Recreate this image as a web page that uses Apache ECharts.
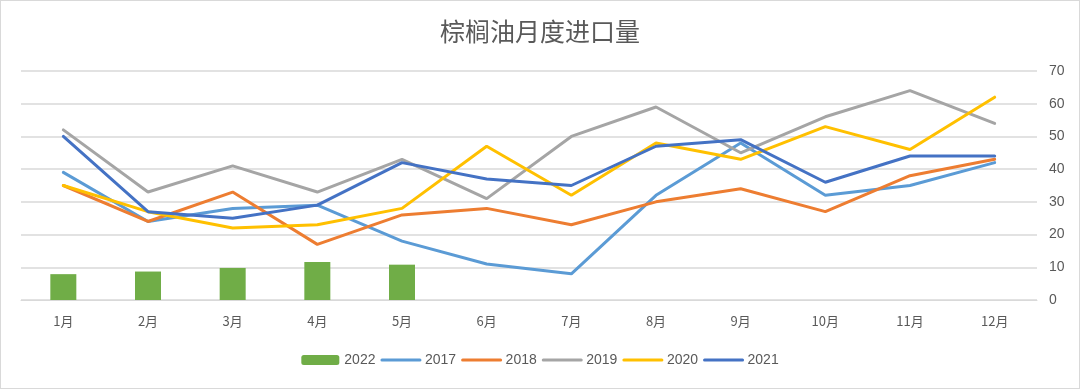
<!DOCTYPE html>
<html><head><meta charset="utf-8">
<script src="https://cdn.jsdelivr.net/npm/echarts@6/dist/echarts.min.js"></script>
<style>html,body{margin:0;padding:0;background:#fff}#c{width:1078px;height:387px;border:1px solid #d9d9d9;}</style>
</head><body><div id="c"></div>
<script>
const categories = ['1月','2月','3月','4月','5月','6月','7月','8月','9月','10月','11月','12月'];
const legendNames = ['2022','2017','2018','2019','2020','2021'];
const s2022 = [7.9, 8.7, 9.8, 11.6, 10.8];
const s2017 = [39, 24, 28, 29, 18, 11, 8, 32, 48, 32, 35, 42];
const s2018 = [35, 24, 33, 17, 26, 28, 23, 30, 34, 27, 38, 43];
const s2019 = [52, 33, 41, 33, 43, 31, 50, 59, 45, 56, 64, 54];
const s2020 = [35, 27, 22, 23, 28, 47, 32, 48, 43, 53, 46, 62];
const s2021 = [50, 27, 25, 29, 42, 37, 35, 47, 49, 36, 44, 44];
const chart = echarts.init(document.getElementById('c'));
const lineS = (name, data, color) => ({name, type:'line', data, symbol:'none', lineStyle:{width:3, color, cap:'round'}, itemStyle:{color}, z:3});
chart.setOption({
  animation:false,
  title:{text:'棕榈油月度进口量', left:'center', top:13, textStyle:{fontSize:25, fontWeight:'normal', color:'#595959', fontFamily:'Noto Sans CJK SC'}},
  grid:{left:20, right:42, top:70, bottom:88},
  legend:{bottom:16, left:'center', itemGap:5, itemWidth:38, itemHeight:10,
    textStyle:{fontSize:14, color:'#595959', fontFamily:'Liberation Sans'},
    data: legendNames.map((n,i) => i === 0 ? {name:n} : {name:n, itemStyle:{opacity:0}, lineStyle:{width:3, cap:'round'}})},
  xAxis:{type:'category', data:categories, axisLine:{show:true, lineStyle:{color:'#d9d9d9'}}, axisTick:{show:false},
    axisLabel:{color:'#595959', fontSize:13, margin:15, fontFamily:'Noto Sans CJK SC'}},
  yAxis:{type:'value', position:'right', min:0, max:70, interval:10,
    splitLine:{lineStyle:{color:'#d9d9d9', width:1.5}}, axisLine:{show:false}, axisTick:{show:false},
    axisLabel:{color:'#595959', fontSize:14, margin:12, fontFamily:'Liberation Sans'}},
  series:[
    {name:'2022', type:'bar', data:s2022, barWidth:26, itemStyle:{color:'#70AD47'}},
    lineS('2017', s2017, '#5B9BD5'),
    lineS('2018', s2018, '#ED7D31'),
    lineS('2019', s2019, '#A5A5A5'),
    lineS('2020', s2020, '#FFC000'),
    lineS('2021', s2021, '#4472C4')
  ]
});
</script></body></html>
